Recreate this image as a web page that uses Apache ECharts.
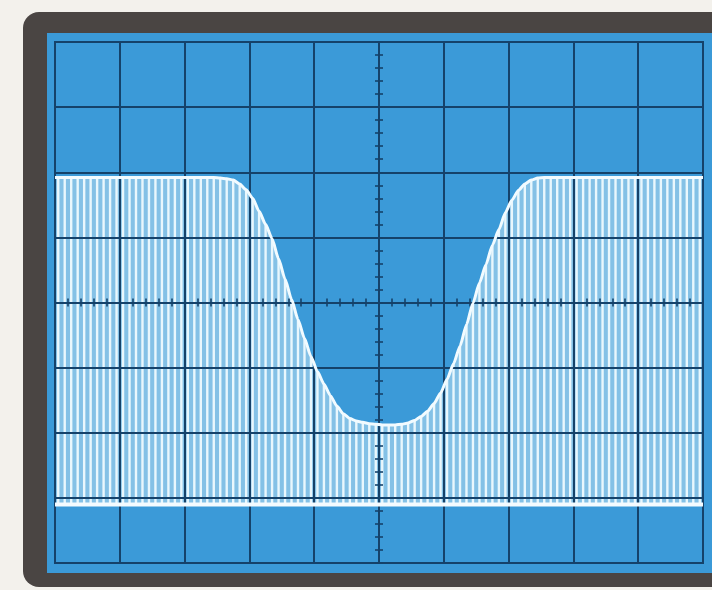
<!DOCTYPE html>
<html>
<head>
<meta charset="utf-8">
<script src="https://cdn.jsdelivr.net/npm/echarts@6/dist/echarts.min.js"></script>
<style>
  html, body { margin: 0; padding: 0; background: #f3f1ec; }
  #chart { width: 712px; height: 590px; }
</style>
</head>
<body>
<div id="chart"></div>
<script>
// Screen divisions (oscilloscope graticule)
const xDivisions = [0, 10];
const yDivisions = [0, 8];
// Baseline (trace zero level) in divisions from bottom
const baseline = 0.9;
// Envelope height for each of the 100 vertical stripes (divisions from bottom)
const envelope = [
  5.92, 5.92, 5.92, 5.92, 5.92, 5.92, 5.92, 5.92, 5.92, 5.92,
  5.92, 5.92, 5.92, 5.92, 5.92, 5.92, 5.92, 5.92, 5.92, 5.92,
  5.92, 5.92, 5.92, 5.92, 5.92, 5.91, 5.90, 5.88, 5.82, 5.73,
  5.60, 5.40, 5.20, 4.98, 4.67, 4.36, 4.05, 3.74, 3.45, 3.17,
  2.94, 2.75, 2.57, 2.41, 2.29, 2.22, 2.18, 2.16, 2.14, 2.13,
  2.12, 2.12, 2.12, 2.13, 2.15, 2.19, 2.25, 2.33, 2.45, 2.61,
  2.82, 3.06, 3.33, 3.66, 3.99, 4.30, 4.58, 4.88, 5.12, 5.38,
  5.57, 5.72, 5.82, 5.88, 5.91, 5.92, 5.92, 5.92, 5.92, 5.92,
  5.92, 5.92, 5.92, 5.92, 5.92, 5.92, 5.92, 5.92, 5.92, 5.92,
  5.92, 5.92, 5.92, 5.92, 5.92, 5.92, 5.92, 5.92, 5.92, 5.92
];
const stripeCategories = envelope.map((_, i) => String(i));

const GRID_COLOR = '#15426a';
const envLine = [[xDivisions[0], envelope[0]]]
  .concat(envelope.map((v, i) => [(i + 0.5) * (xDivisions[1] - xDivisions[0]) / envelope.length, v]))
  .concat([[xDivisions[1], envelope[envelope.length - 1]]]);

const chart = echarts.init(document.getElementById('chart'), null, { renderer: 'canvas' });

function tickAxis(pos, offset, inside, min, max) {
  return {
    type: 'value', min: min, max: max, interval: 0.2, position: pos, offset: offset, z: 5,
    axisLine: { show: false },
    axisTick: { show: true, inside: inside, length: 4, lineStyle: { color: GRID_COLOR, width: 1.6 } },
    axisLabel: { show: false },
    splitLine: { show: false }
  };
}

const option = {
  animation: false,
  backgroundColor: '#f3f1ec',
  graphic: [
    { type: 'rect', z: -10, shape: { x: 23, y: 12, width: 760, height: 575, r: 16 }, style: { fill: '#4a4543' } },
    { type: 'rect', z: -9, shape: { x: 47, y: 33, width: 680, height: 540 }, style: { fill: '#3b9ad8' } }
  ],
  grid: { left: 55, top: 42, right: 9, bottom: 27, show: true, borderColor: GRID_COLOR, borderWidth: 2, backgroundColor: 'transparent' },
  xAxis: [
    { type: 'value', min: xDivisions[0], max: xDivisions[1], interval: 1, z: 4,
      axisLine: { show: false }, axisTick: { show: false }, axisLabel: { show: false },
      splitLine: { show: true, lineStyle: { color: GRID_COLOR, width: 2 } } },
    { type: 'category', data: stripeCategories, boundaryGap: true, show: false },
    tickAxis('bottom', -260.5, false, xDivisions[0], xDivisions[1]),
    tickAxis('bottom', -260.5, true, xDivisions[0], xDivisions[1])
  ],
  yAxis: [
    { type: 'value', min: yDivisions[0], max: yDivisions[1], interval: 1, z: 4,
      axisLine: { show: false }, axisTick: { show: false }, axisLabel: { show: false },
      splitLine: { show: true, lineStyle: { color: GRID_COLOR, width: 2 } } },
    tickAxis('left', -324, false, yDivisions[0], yDivisions[1]),
    tickAxis('left', -324, true, yDivisions[0], yDivisions[1])
  ],
  series: [
    { type: 'line', xAxisIndex: 0, yAxisIndex: 0, data: envLine, smooth: 0.2, smoothMonotone: 'x', symbol: 'none', z: 2,
      lineStyle: { width: 0 },
      areaStyle: { color: '#84c1e6', opacity: 1, origin: baseline } },
    { type: 'bar', xAxisIndex: 1, yAxisIndex: 0, stack: 's', silent: true, z: 3,
      data: envelope.map(() => baseline), itemStyle: { color: 'rgba(0,0,0,0)' }, barWidth: 2.4 },
    { type: 'bar', xAxisIndex: 1, yAxisIndex: 0, stack: 's', silent: true, z: 3,
      data: envelope.map(v => v - baseline), itemStyle: { color: '#e9f7fd' }, barWidth: 2.4 },
    { type: 'line', xAxisIndex: 0, yAxisIndex: 0, data: envLine, smooth: 0.2, smoothMonotone: 'x', symbol: 'none', z: 8,
      lineStyle: { color: '#f2fbff', width: 3 } },
    { type: 'line', xAxisIndex: 0, yAxisIndex: 0, data: [[xDivisions[0], baseline], [xDivisions[1], baseline]],
      symbol: 'none', z: 8, lineStyle: { color: '#f4fbff', width: 4 } }
  ]
};
chart.setOption(option);
</script>
</body>
</html>
